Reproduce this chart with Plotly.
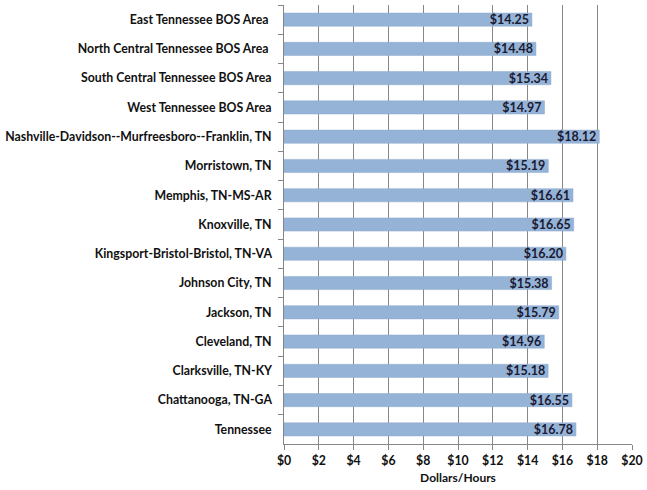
import plotly.graph_objects as go

categories = [
    "East Tennessee BOS Area ",
    "North Central Tennessee BOS Area ",
    "South Central Tennessee BOS Area",
    "West Tennessee BOS Area",
    "Nashville-Davidson--Murfreesboro--Franklin, TN",
    "Morristown, TN",
    "Memphis, TN-MS-AR",
    "Knoxville, TN",
    "Kingsport-Bristol-Bristol, TN-VA",
    "Johnson City, TN",
    "Jackson, TN",
    "Cleveland, TN",
    "Clarksville, TN-KY",
    "Chattanooga, TN-GA",
    "Tennessee",
]
values = [14.25, 14.48, 15.34, 14.97, 18.12, 15.19, 16.61, 16.65, 16.20, 15.38, 15.79, 14.96, 15.18, 16.55, 16.78]
tick_vals = [0, 2, 4, 6, 8, 10, 12, 14, 16, 18, 20]
tick_text = ["$" + str(v) for v in tick_vals]

font_family = "Lato, 'Open Sans', sans-serif"

fig = go.Figure(go.Bar(
    x=values,
    y=categories,
    orientation="h",
    marker=dict(color="#95B3D7", line=dict(color="#8EA9CC", width=0.5)),
    text=["$%.2f" % v for v in values],
    textposition="inside",
    insidetextanchor="end",
    textfont=dict(family=font_family, size=12.5, color="#1A1A33", weight="bold"),
    cliponaxis=False,
))

fig.update_layout(
    width=647, height=490,
    margin=dict(l=284, r=15, t=5, b=46),
    paper_bgcolor="white",
    plot_bgcolor="white",
    bargap=0.55,
    showlegend=False,
    uniformtext=dict(minsize=12, mode="show"),
    font=dict(family=font_family, size=12, color="#111111"),
)
fig.update_yaxes(
    autorange="reversed",
    showline=True, linecolor="#878787", linewidth=1,
    ticks="outside", ticklen=5, tickcolor="#878787",
    tickson="boundaries",
    showgrid=False,
    tickfont=dict(family=font_family, size=12.3, color="#111111", weight="bold"),
    ticksuffix="   ",
)
fig.update_xaxes(
    range=[0, 20],
    tickvals=tick_vals, ticktext=tick_text,
    showline=True, linecolor="#878787", linewidth=1,
    ticks="outside", ticklen=5, tickcolor="#878787",
    showgrid=True, gridcolor="#878787", gridwidth=1,
    zeroline=False,
    tickfont=dict(family=font_family, size=12.3, color="#111111", weight="bold"),
    title=dict(text="Dollars/Hours", font=dict(family=font_family, size=12, color="#111111", weight="bold"), standoff=6),
)

fig.write_html("out.html", config={"displayModeBar": False},
               post_script="document.body.style.margin='0';")
